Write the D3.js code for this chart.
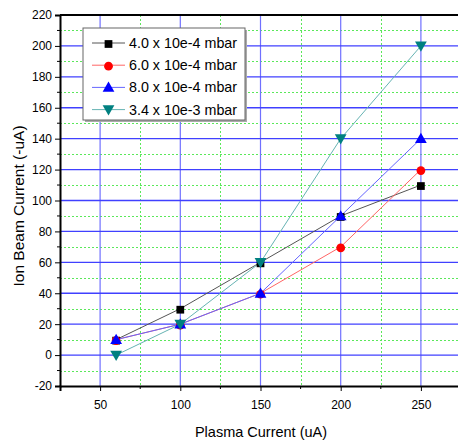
<!DOCTYPE html>
<html>
<head>
<meta charset="utf-8">
<script src="https://cdn.jsdelivr.net/npm/d3@7"></script>
<style>
  body { margin: 0; background: #fff; }
  svg { font-family: "Liberation Sans", Arial, sans-serif; }
</style>
</head>
<body>
<div id="chart"></div>
<script>
const plasmaCurrent = [60, 100, 150, 200, 250];
const seriesNames = ["4.0 x 10e-4 mbar", "6.0 x 10e-4 mbar", "8.0 x 10e-4 mbar", "3.4 x 10e-3 mbar"];
const beam40e4 = [10, 30, 60, 90, 110];
const beam60e4 = [10, 20, 40, 70, 120];
const beam80e4 = [10, 20, 40, 90, 140];
const beam34e3 = [0, 20, 60, 140, 200];
const xTicks = [50, 100, 150, 200, 250];
const yTicks = [-20, 0, 20, 40, 60, 80, 100, 120, 140, 160, 180, 200, 220];

const WIDTH = 458;
const HEIGHT = 444;
const MARGIN = { left: 60, top: 15, right: -3, bottom: 58 };

const series = [
  { name: seriesNames[0], values: beam40e4, color: '#000000', line: '#555555', symbol: d3.symbolSquare, size: 60, rot: 0 },
  { name: seriesNames[1], values: beam60e4, color: '#ff0000', line: '#ff6666', symbol: d3.symbolCircle, size: 60, rot: 0 },
  { name: seriesNames[2], values: beam80e4, color: '#0000ff', line: '#6666ff', symbol: d3.symbolTriangle, size: 60, rot: 0 },
  { name: seriesNames[3], values: beam34e3, color: '#008080', line: '#66b3b3', symbol: d3.symbolTriangle, size: 60, rot: 180 }
];

const svg = d3.select('#chart').append('svg')
  .attr('width', WIDTH)
  .attr('height', HEIGHT);

const x = d3.scaleLinear()
  .domain([25, 275])
  .range([MARGIN.left, WIDTH - MARGIN.right]);

const y = d3.scaleLinear()
  .domain([-20, 220])
  .range([HEIGHT - MARGIN.bottom, MARGIN.top]);

const plotTop = y(220), plotBottom = y(-20), plotLeft = x(25), plotRight = x(275);

// minor grid (green dotted)
const xMinor = [75, 125, 175, 225];
const yMinor = d3.range(-10, 220, 20);
svg.append('g').selectAll('line')
  .data(xMinor)
  .join('line')
  .attr('x1', d => Math.round(x(d)) + 0.5).attr('x2', d => Math.round(x(d)) + 0.5)
  .attr('y1', plotTop).attr('y2', plotBottom)
  .attr('stroke', '#5ae85a').attr('stroke-width', 1).attr('stroke-dasharray', '2,2');
svg.append('g').selectAll('line')
  .data(yMinor)
  .join('line')
  .attr('x1', plotLeft).attr('x2', plotRight)
  .attr('y1', d => Math.round(y(d)) + 0.5).attr('y2', d => Math.round(y(d)) + 0.5)
  .attr('stroke', '#5ae85a').attr('stroke-width', 1).attr('stroke-dasharray', '2,2');

// major grid (blue)
svg.append('g').selectAll('line')
  .data(xTicks)
  .join('line')
  .attr('x1', d => x(d)).attr('x2', d => x(d))
  .attr('y1', plotTop).attr('y2', plotBottom)
  .attr('stroke', '#7070ff').attr('stroke-width', 1.2);
svg.append('g').selectAll('line')
  .data(yTicks.filter(d => d > -20 && d < 220))
  .join('line')
  .attr('x1', plotLeft).attr('x2', plotRight)
  .attr('y1', d => y(d)).attr('y2', d => y(d))
  .attr('stroke', '#4040ff').attr('stroke-width', 1.3);

// axes
const xAxis = svg.append('g')
  .attr('transform', `translate(0,${plotBottom})`)
  .call(d3.axisBottom(x).tickValues(xTicks).tickSize(5).tickPadding(9).tickFormat(d => String(d)));
xAxis.append('g').selectAll('line')
  .data(xMinor)
  .join('line')
  .attr('x1', d => x(d)).attr('x2', d => x(d))
  .attr('y1', 0).attr('y2', 3)
  .attr('stroke', '#000');

const yAxis = svg.append('g')
  .attr('transform', `translate(${plotLeft},0)`)
  .call(d3.axisLeft(y).tickValues(yTicks).tickSize(5).tickPadding(3).tickFormat(d => String(d)));
yAxis.append('g').selectAll('line')
  .data(yMinor)
  .join('line')
  .attr('x1', 0).attr('x2', -3)
  .attr('y1', d => y(d)).attr('y2', d => y(d))
  .attr('stroke', '#000');

[xAxis, yAxis].forEach(a => {
  a.attr('font-family', null);
  a.select('.domain').attr('stroke', '#000').attr('stroke-width', 2);
  a.selectAll('.tick line').attr('stroke', '#000');
  a.selectAll('.tick text').attr('font-size', 12).attr('fill', '#000');
});

// top border
svg.append('line')
  .attr('x1', plotLeft).attr('x2', plotRight)
  .attr('y1', plotTop).attr('y2', plotTop)
  .attr('stroke', '#000').attr('stroke-width', 2);

// series lines and markers
const line = d3.line()
  .x((d, i) => x(plasmaCurrent[i]))
  .y(d => y(d));

series.forEach(s => {
  svg.append('path')
    .datum(s.values)
    .attr('d', line)
    .attr('fill', 'none')
    .attr('stroke', s.line)
    .attr('stroke-width', 1);
});
series.forEach(s => {
  svg.append('g').selectAll('path')
    .data(s.values)
    .join('path')
    .attr('d', d3.symbol().type(s.symbol).size(s.size))
    .attr('transform', (d, i) => `translate(${x(plasmaCurrent[i])},${y(d) + (s.rot ? -1 : 1)}) rotate(${s.rot})`)
    .attr('fill', s.color);
});

// axis titles
svg.append('text')
  .attr('x', 261)
  .attr('y', 437)
  .attr('text-anchor', 'middle')
  .attr('font-size', 14.5)
  .text('Plasma Current (uA)');
svg.append('text')
  .attr('transform', 'translate(24,206) rotate(-90)')
  .attr('text-anchor', 'middle')
  .attr('font-size', 15.5)
  .text('Ion Beam Current (-uA)');

// legend
const legend = svg.append('g').attr('transform', 'translate(83,28)');
legend.append('rect')
  .attr('x', 2).attr('y', 2).attr('width', 162).attr('height', 92)
  .attr('fill', '#aaa');
legend.append('rect')
  .attr('x', 0).attr('y', 0).attr('width', 162).attr('height', 92)
  .attr('fill', '#fff').attr('stroke', '#666').attr('stroke-width', 1);
const items = legend.selectAll('.item')
  .data(series)
  .join('g')
  .attr('class', 'item')
  .attr('transform', (d, i) => `translate(0,${15 + i * 22.2})`);
items.append('line')
  .attr('x1', 9).attr('x2', 42).attr('y1', 0).attr('y2', 0)
  .attr('stroke', d => d.line).attr('stroke-width', 1);
items.append('path')
  .attr('d', d => d3.symbol().type(d.symbol).size(d.size)())
  .attr('transform', d => `translate(25.5,${d.rot ? -1 : 1}) rotate(${d.rot})`)
  .attr('fill', d => d.color);
items.append('text')
  .attr('x', 46).attr('y', 5)
  .attr('font-size', 14.3)
  .text(d => d.name);
</script>
</body>
</html>
